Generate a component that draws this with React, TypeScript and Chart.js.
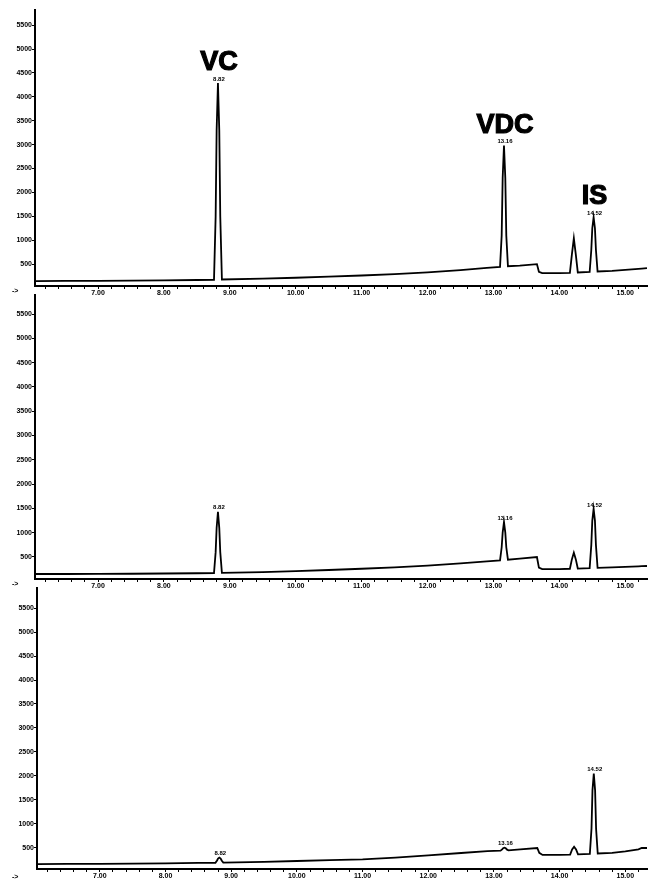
import React, { useEffect, useRef } from "react";
import { Chart, registerables } from "chart.js";

Chart.register(...registerables);

// Retention times (min) shared by all three chromatograms
const times = [
  6.05, 6.5, 7.0, 7.5, 8.0, 8.5,
  8.76, 8.785, 8.8, 8.82, 8.84, 8.855, 8.88,
  9.5, 10.0, 10.5, 11.0, 11.5, 12.0, 12.5, 12.9,
  13.1, 13.125, 13.14, 13.16, 13.18, 13.195, 13.22,
  13.4, 13.66, 13.69, 13.74, 14.0,
  14.16, 14.19, 14.22, 14.25, 14.28,
  14.46, 14.485, 14.5, 14.52, 14.54, 14.555, 14.58,
  14.8, 15.0, 15.2, 15.25, 15.33,
];

// Top chromatogram
const traceTop = [
  145, 148, 150, 155, 160, 168,
  172, 1500, 3300, 4290, 3300, 1500, 178,
  195, 215, 238, 262, 292, 328, 375, 420,
  440, 1100, 2300, 2980, 2300, 1100, 455,
  470, 500, 340, 310, 310,
  318, 700, 1040, 700, 325,
  335, 800, 1250, 1480, 1250, 800, 345,
  360, 380, 400, 405, 415,
];

// Middle chromatogram
const traceMiddle = [
  150, 150, 152, 155, 160, 165,
  170, 600, 1100, 1430, 1100, 600, 175,
  190, 210, 232, 258, 288, 322, 368, 410,
  430, 700, 1000, 1220, 1000, 700, 445,
  465, 500, 280, 250, 252,
  258, 450, 590, 450, 262,
  270, 750, 1250, 1490, 1250, 750, 275,
  285, 295, 308, 310, 315,
];

// Bottom chromatogram
const traceBottom = [
  165, 167, 170, 175, 180, 188,
  192, 240, 280, 300, 280, 240, 196,
  212, 229, 246, 264, 300, 348, 395, 435,
  444, 470, 495, 506, 495, 470, 452,
  470, 500, 400, 355, 356,
  362, 470, 527, 470, 368,
  378, 900, 1700, 2050, 1700, 900, 385,
  400, 430, 470, 500, 500,
];

const peakTimes = [8.82, 13.16, 14.52];
const peakLabels = ["8.82", "13.16", "14.52"];
const compoundNames = ["VC", "VDC", "IS"];

const yTickValues = [500, 1000, 1500, 2000, 2500, 3000, 3500, 4000, 4500, 5000, 5500];
const xMajorTicks = [7, 8, 9, 10, 11, 12, 13, 14, 15];
const xMinorStep = 0.2;

const xMin = 6.044;
const xMax = 15.33;

const panels = [
  { trace: traceTop, top: 10, bottom: 286, left: 35, yMin: 42, yMax: 5816, names: true },
  { trace: traceMiddle, top: 295, bottom: 579, left: 35, yMin: 47, yMax: 5891, names: false },
  { trace: traceBottom, top: 588, bottom: 869, left: 37, yMin: 62, yMax: 5917, names: false },
];

const W = 657;
const PAD_TOP = 10;
const X_AXIS_H = 14;

const peakLabelPlugin = {
  id: "peakLabels",
  afterDatasetsDraw(chart: any, _args: any, opts: any) {
    const { ctx } = chart;
    const xs = chart.scales.x;
    const ys = chart.scales.y;
    const data = chart.data.datasets[0].data as { x: number; y: number }[];
    peakTimes.forEach((t, i) => {
      const pt = data.find((p) => p.x === t);
      if (!pt) return;
      const px = xs.getPixelForValue(t);
      const py = ys.getPixelForValue(pt.y);
      ctx.save();
      ctx.fillStyle = "#000";
      ctx.textAlign = "center";
      ctx.textBaseline = "bottom";
      ctx.font = 'bold 6px "Liberation Sans", Arial, sans-serif';
      ctx.fillText(peakLabels[i], px + 1, py - 1);
      if (opts && opts.showNames) {
        ctx.textBaseline = "alphabetic";
        ctx.font = 'bold 27px "Liberation Sans", Arial, sans-serif';
        ctx.lineWidth = 1.2;
        ctx.strokeStyle = "#000";
        ctx.fillText(compoundNames[i], px + 1, py - 13);
        ctx.strokeText(compoundNames[i], px + 1, py - 13);
      }
      ctx.restore();
    });
  },
};

function Panel({ cfg }: { cfg: (typeof panels)[number] }) {
  const ref = useRef<HTMLCanvasElement | null>(null);
  const height = PAD_TOP + (cfg.bottom - cfg.top) + X_AXIS_H;
  useEffect(() => {
    if (!ref.current) return;
    const tickFont = { family: '"Liberation Sans", Arial, sans-serif', size: 7, weight: "bold" as const };
    const chart = new Chart(ref.current, {
      type: "line",
      data: {
        datasets: [
          {
            data: times.map((t, i) => ({ x: t, y: cfg.trace[i] })),
            borderColor: "#000",
            borderWidth: 1.8,
            pointRadius: 0,
            tension: 0,
            fill: false,
          },
        ],
      },
      options: {
        responsive: false,
        animation: false,
        devicePixelRatio: 1,
        layout: { padding: { top: PAD_TOP, left: 0, right: W - 647, bottom: 0 } },
        plugins: {
          legend: { display: false },
          tooltip: { enabled: false },
          peakLabels: { showNames: cfg.names },
        } as any,
        scales: {
          x: {
            type: "linear",
            min: xMin,
            max: xMax,
            grid: { drawOnChartArea: false, drawTicks: true, tickLength: 3, tickColor: "#000", tickWidth: 1 },
            border: { display: true, color: "#000", width: 2 },
            ticks: {
              autoSkip: false,
              maxRotation: 0,
              padding: 0,
              color: "#000",
              font: tickFont,
              callback: (v: any) => {
                const n = Number(v);
                return xMajorTicks.some((m) => Math.abs(m - n) < 1e-6) ? n.toFixed(2) : "";
              },
            },
            afterBuildTicks: (s: any) => {
              const ticks: { value: number }[] = [];
              const first = Math.ceil(xMin / xMinorStep);
              const last = Math.floor(xMax / xMinorStep);
              for (let k = first; k <= last; k++) ticks.push({ value: Math.round(k * xMinorStep * 1000) / 1000 });
              s.ticks = ticks;
            },
            afterFit: (s: any) => {
              s.height = X_AXIS_H;
            },
          },
          y: {
            type: "linear",
            min: cfg.yMin,
            max: cfg.yMax,
            grid: { drawOnChartArea: false, drawTicks: true, tickLength: 3, tickColor: "#000", tickWidth: 1 },
            border: { display: true, color: "#000", width: 2 },
            ticks: {
              autoSkip: false,
              padding: 0,
              color: "#000",
              font: tickFont,
              callback: (v: any) => String(Math.round(Number(v))),
            },
            afterBuildTicks: (s: any) => {
              s.ticks = yTickValues.map((v) => ({ value: v }));
            },
            afterFit: (s: any) => {
              s.width = cfg.left;
            },
          },
        },
      },
      plugins: [peakLabelPlugin],
    });
    return () => chart.destroy();
  }, [cfg]);
  return (
    <canvas
      ref={ref}
      width={W}
      height={height}
      style={{ position: "absolute", left: 0, top: cfg.top - PAD_TOP, width: W, height }}
    />
  );
}

const markStyle: React.CSSProperties = {
  position: "absolute",
  fontFamily: '"Liberation Sans", Arial, sans-serif',
  fontSize: 7,
  fontWeight: "bold",
  color: "#000",
  lineHeight: "7px",
};

export default function App() {
  return (
    <div
      style={{
        position: "fixed",
        left: 0,
        top: 0,
        width: W,
        height: 879,
        overflow: "hidden",
        background: "#fff",
      }}
    >
      {panels.map((p, i) => (
        <Panel key={i} cfg={p} />
      ))}
      <span style={{ ...markStyle, left: 12, top: 287 }}>-&gt;</span>
      <span style={{ ...markStyle, left: 12, top: 580 }}>-&gt;</span>
      <span style={{ ...markStyle, left: 12, top: 873 }}>-&gt;</span>
    </div>
  );
}
